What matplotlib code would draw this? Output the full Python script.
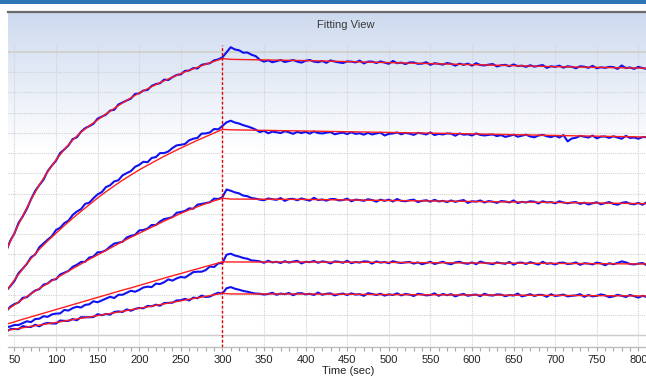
import numpy as np
import matplotlib
matplotlib.use('Agg')
import matplotlib.pyplot as plt
from matplotlib.patches import Rectangle
from matplotlib.lines import Line2D
from matplotlib.ticker import MultipleLocator

plt.rcParams['font.family'] = ['Liberation Sans', 'DejaVu Sans']

# ---------------- data ----------------
t_trace = list(range(40, 816, 5))            # sensorgram sampling times (s)
t_fit_assoc = [42] + list(range(50, 301, 10))
t_fit_diss = [300, 310, 400, 500, 600, 700, 815]
x_ticks = list(range(50, 801, 50))
injection_end = 300

fit1_assoc = [43.7, 50.5, 59.0, 67.0, 74.3, 80.8, 86.6, 91.8, 96.4, 100.3, 103.5, 106.4, 109.3, 112.1,
              114.8, 117.3, 119.7, 121.8, 123.8, 125.7, 127.5, 129.3, 130.9, 132.4, 133.9, 135.3, 136.7]
fit2_assoc = [22.7, 27.3, 32.8, 37.9, 42.5, 46.6, 50.4, 54.2, 57.8, 61.2, 64.5, 67.8, 70.9, 73.8,
              76.6, 79.2, 81.7, 84.0, 86.2, 88.4, 90.5, 92.5, 94.4, 96.3, 98.1, 99.9, 101.7]
fit3_assoc = [12.8, 15.0, 17.8, 20.5, 23.1, 25.6, 28.1, 30.5, 32.9, 35.2, 37.5, 39.7, 41.9, 44.1,
              46.3, 48.4, 50.4, 52.4, 54.4, 56.4, 58.3, 60.2, 61.9, 63.5, 65.0, 66.4, 67.7]
fit4_assoc = [5.7, 6.6, 7.9, 9.1, 10.3, 11.5, 12.7, 13.9, 15.1, 16.3, 17.5, 18.7, 19.9, 21.1,
              22.3, 23.4, 24.6, 25.8, 27.0, 28.2, 29.4, 30.5, 31.7, 32.8, 34.0, 35.1, 36.3]
fit5_assoc = [2.5, 3.0, 3.7, 4.4, 5.0, 5.7, 6.3, 7.0, 7.7, 8.4, 9.0, 9.7, 10.4, 11.1,
              11.8, 12.6, 13.3, 14.0, 14.8, 15.5, 16.3, 17.0, 17.8, 18.5, 19.2, 20.0, 20.7]

fit1_diss = [136.7, 136.3, 135.7, 134.7, 133.7, 132.7, 131.9]
fit2_diss = [101.7, 101.5, 100.9, 100.2, 99.5, 98.7, 97.9]
fit3_diss = [67.7, 67.3, 67.1, 66.6, 66.1, 65.6, 65.0]
fit4_diss = [36.3, 36.2, 36.2, 36.0, 35.7, 35.5, 35.2]
fit5_diss = [20.7, 20.4, 20.4, 20.1, 19.9, 19.7, 19.4]

trace1 = [41.4, 46.7, 50.3, 55.5, 58.7, 62.5, 67.2, 71.3, 74.2, 76.9, 81.1, 83.8, 86.2, 90.0, 91.8,
          93.8, 96.9, 97.8, 100.5, 102.3, 103.3, 104.5, 107.0, 108.0, 109.0, 111.0, 111.4, 114.0,
          115.0, 116.0, 116.9, 119.2, 119.5, 120.9, 121.2, 123.2, 124.1, 124.5, 126.3, 126.1, 127.5,
          128.6, 128.9, 130.6, 130.8, 132.0, 131.8, 133.6, 134.0, 134.4, 135.8, 136.3, 137.3,
          139.8, 142.3, 141.2, 140.8, 139.6, 139.7, 138.6, 137.9,
          136.1, 135.2, 135.8, 134.9, 135.4, 136.0, 135.0, 135.5, 136.0, 135.2,
          134.7, 135.6, 136.0, 135.2, 134.9, 135.5, 134.6, 135.8, 135.2, 134.8,
          134.5, 135.3, 135.2, 134.8, 135.7, 134.3, 135.2, 135.2, 134.5, 135.3,
          134.7, 134.1, 135.5, 134.4, 134.7, 134.0, 134.8, 134.8, 134.1, 134.2,
          134.9, 133.6, 134.4, 134.1, 133.7, 134.5, 134.1, 133.2, 134.2, 133.6,
          134.2, 133.2, 134.4, 133.5, 133.3, 133.7, 134.0, 132.8, 133.4, 133.6,
          132.9, 133.8, 133.0, 133.2, 132.6, 133.4, 132.7, 133.1, 133.5, 132.1,
          132.9, 132.6, 133.2, 132.2, 132.9, 132.6, 131.9, 132.9, 132.7, 132.1,
          133.1, 131.9, 132.4, 132.1, 132.6, 132.5, 131.6, 133.3, 132.0, 132.3,
          131.6, 132.6, 132.0, 131.6, 132.0]
trace2 = [21.9, 24.2, 26.8, 30.7, 32.9, 35.3, 38.5, 39.9, 43.5, 45.4, 47.2, 48.9, 52.0, 53.1, 55.4,
          56.6, 59.4, 61.1, 62.3, 64.9, 65.5, 67.7, 69.6, 70.7, 73.2, 74.1, 76.0, 76.6, 79.0, 80.1,
          81.1, 83.2, 84.2, 85.7, 85.5, 87.6, 88.0, 90.0, 90.0, 90.8, 92.5, 93.8, 94.1, 94.5, 96.3,
          97.1, 97.5, 99.6, 99.7, 100.2, 101.9, 101.7, 103.4,
          105.2, 106.0, 105.1, 104.6, 103.8, 103.2, 102.5, 101.6,
          100.4, 101.0, 99.8, 100.6, 100.3, 99.9, 100.8, 100.3, 99.5, 100.5,
          99.9, 100.5, 99.6, 100.7, 99.9, 99.7, 100.1, 100.4, 99.3, 99.8,
          100.1, 99.4, 100.3, 99.5, 99.8, 99.1, 100.0, 99.2, 99.7, 100.1,
          98.7, 99.5, 99.7, 100.2, 99.3, 100.0, 99.6, 99.0, 100.0, 99.7,
          99.2, 100.2, 98.9, 99.5, 99.2, 99.7, 99.6, 98.6, 99.7, 99.1,
          99.3, 98.7, 99.7, 99.0, 98.7, 99.0, 99.2, 98.4, 98.9, 98.0,
          98.5, 99.1, 98.1, 98.6, 99.1, 98.2, 97.8, 98.7, 99.0, 98.3,
          97.9, 98.6, 97.7, 98.9, 95.8, 97.2, 97.6, 98.5, 98.1, 97.7,
          98.6, 97.3, 98.1, 98.2, 97.5, 98.3, 97.7, 97.1, 98.5, 97.5,
          97.7, 97.1, 97.9, 97.9, 97.2]
trace3 = [11.7, 14.1, 15.4, 16.2, 18.5, 18.8, 20.6, 22.1, 22.8, 25.0, 25.6, 27.3, 27.7, 30.0, 30.9,
          31.8, 33.8, 34.8, 36.2, 36.3, 38.4, 38.9, 41.0, 41.1, 42.0, 43.8, 45.3, 45.7, 46.2, 48.3,
          49.1, 49.6, 51.8, 52.0, 52.7, 54.5, 54.4, 56.2, 57.4, 57.8, 58.4, 60.5, 60.9, 61.4, 62.7,
          62.5, 64.5, 64.9, 65.3, 65.7, 67.5, 67.3, 68.2,
          72.0, 71.4, 70.6, 70.1, 69.0, 68.7, 67.8, 67.5,
          67.0, 66.7, 67.6, 67.2, 66.9, 67.8, 66.4, 67.3, 67.4, 66.7,
          67.6, 67.0, 66.5, 67.9, 66.8, 67.1, 66.5, 67.3, 67.3, 66.6,
          66.8, 67.5, 66.2, 67.0, 66.8, 66.4, 67.2, 66.8, 66.0, 67.0,
          66.4, 67.0, 66.1, 67.3, 66.4, 66.2, 66.7, 67.0, 65.8, 66.4,
          66.7, 66.0, 66.9, 66.1, 66.4, 65.8, 66.6, 65.9, 66.4, 66.8,
          65.4, 66.2, 66.0, 66.6, 65.6, 66.3, 66.0, 65.4, 66.3, 66.1,
          65.6, 66.6, 65.3, 65.9, 65.6, 66.2, 66.0, 65.1, 66.2, 65.6,
          65.8, 65.2, 66.2, 65.6, 65.2, 65.6, 65.8, 64.9, 65.5, 64.6,
          65.2, 65.7, 64.7, 65.3, 65.8, 64.9, 64.5, 65.4, 65.8, 65.0,
          64.7, 65.4, 64.5, 65.7, 65.1]
trace4 = [4.0, 4.3, 5.1, 5.1, 6.0, 6.9, 6.5, 8.0, 8.2, 9.4, 9.1, 10.3, 10.7, 10.8, 12.5,
          12.2, 13.4, 14.1, 13.7, 15.0, 15.3, 16.8, 16.3, 17.2, 18.1, 19.0, 18.4, 20.0, 20.0, 21.0,
          22.0, 21.5, 22.4, 23.6, 24.0, 23.8, 25.5, 25.3, 26.2, 27.6, 27.0, 28.1, 28.8, 28.5, 29.8,
          31.2, 31.4, 31.4, 32.2, 34.0, 33.7, 35.5, 35.7,
          39.8, 40.3, 39.4, 38.9, 38.2, 37.8, 37.0, 36.8,
          36.5, 35.8, 36.8, 36.0, 36.3, 35.7, 36.6, 35.9, 36.4, 36.8,
          35.5, 36.3, 36.1, 36.7, 35.8, 36.5, 36.2, 35.5, 36.5, 36.3,
          35.8, 36.8, 35.6, 36.2, 35.9, 36.5, 36.4, 35.4, 36.5, 35.9,
          36.2, 35.6, 36.6, 36.0, 35.7, 36.0, 36.2, 35.4, 36.0, 35.1,
          35.7, 36.3, 35.2, 35.8, 36.3, 35.5, 35.1, 36.0, 36.3, 35.6,
          35.3, 36.0, 35.1, 36.4, 35.8, 35.5, 35.1, 36.0, 35.6, 35.3,
          36.2, 34.9, 35.8, 35.9, 35.2, 36.1, 35.5, 34.9, 36.3, 35.3,
          35.6, 35.0, 35.8, 35.9, 35.2, 35.4, 36.0, 34.8, 35.6, 35.4,
          35.0, 35.9, 35.5, 34.6, 35.6, 35.1, 35.7, 36.5, 36.0, 35.2,
          35.0, 35.4, 35.7, 34.6, 35.2]
trace5 = [1.7, 3.0, 3.1, 3.0, 4.5, 4.1, 4.1, 5.2, 4.4, 5.6, 6.1, 5.8, 5.8, 7.3, 7.1,
          7.1, 8.0, 7.4, 8.9, 8.9, 8.9, 9.0, 10.4, 9.9, 10.5, 10.2, 11.5, 11.8, 11.5, 12.8,
          12.1, 13.0, 13.5, 13.3, 14.5, 14.3, 15.1, 14.6, 15.9, 16.0, 16.1, 17.2, 17.3, 18.0, 17.2,
          18.6, 18.3, 19.6, 18.9, 19.1, 20.2, 21.0, 20.6,
          23.2, 23.8, 23.0, 22.5, 21.9, 21.5, 21.0, 20.6,
          20.5, 20.1, 20.4, 21.0, 20.0, 20.6, 20.3, 20.9, 19.8, 20.7,
          20.8, 20.2, 20.5, 19.9, 21.1, 20.0, 20.5, 20.7, 19.7, 20.3,
          20.6, 19.9, 20.7, 20.1, 20.3, 19.5, 20.8, 20.4, 19.9, 20.5,
          19.6, 20.2, 19.9, 20.7, 19.7, 20.4, 20.1, 19.4, 20.5, 20.2,
          19.7, 19.9, 20.7, 19.5, 20.4, 19.8, 20.3, 19.2, 20.0, 20.4,
          19.5, 19.9, 20.1, 19.3, 20.5, 19.8, 19.6, 20.2, 20.1, 19.3,
          19.9, 19.6, 20.6, 19.2, 19.7, 20.3, 19.4, 20.0, 19.9, 19.0,
          20.3, 19.4, 19.7, 20.1, 19.2, 19.5, 19.7, 20.3, 19.0, 19.9,
          19.2, 19.5, 20.2, 19.7, 18.8, 19.2, 20.0, 19.5, 18.9, 19.9,
          19.3, 18.6, 19.5, 18.9, 19.7]

traces = [trace1, trace2, trace3, trace4, trace5]
fits_assoc = [fit1_assoc, fit2_assoc, fit3_assoc, fit4_assoc, fit5_assoc]
fits_diss = [fit1_diss, fit2_diss, fit3_diss, fit4_diss, fit5_diss]
for tr in traces:
    assert len(tr) == len(t_trace), len(tr)

# ---------------- layout ----------------
W, H = 646, 378
fig = plt.figure(figsize=(W / 100, H / 100), dpi=100)
fig.patch.set_facecolor('white')

def fx(px):
    return px / W

def fy(py):
    return 1 - py / H

# top window bar
fig.patches.append(Rectangle((0, fy(3.5)), 1, 3.5 / H, transform=fig.transFigure,
                             facecolor='#2E75B6', edgecolor='none', zorder=0))

# panel gradient background
bg = fig.add_axes([fx(8), 0, 1 - fx(8), fy(11)], zorder=0)
rows = 367
frac = np.clip(np.arange(rows) / 140.0, 0, 1).reshape(-1, 1, 1)
top_c = np.array([205, 218, 239]) / 255.0
img = top_c * (1 - frac) + np.ones(3) * frac
bg.imshow(img, aspect='auto', extent=[0, 1, 0, 1], origin='upper', interpolation='bilinear')
bg.set_axis_off()

fig.add_artist(Line2D([fx(8), 1], [fy(11.5), fy(11.5)], transform=fig.transFigure,
                      color='#6A6A6A', lw=1.6))

ax = fig.add_axes([fx(8), fy(347), fx(646) - fx(8), fy(45) - fy(347)], zorder=1)
ax.patch.set_alpha(0)
ax.set_xlim(42.3, 809.2)
ax.set_ylim(-5.8, 143.4)

ax.set_yticks(list(range(0, 141, 10)))
ax.set_xticks(x_ticks)
ax.xaxis.set_minor_locator(MultipleLocator(10))
ax.grid(True, which='major', axis='both', linestyle=(0, (1, 1)), color='#D2D2D2', lw=0.8)
ax.axhline(0, color='#C8C8C8', lw=1.0, zorder=1)
ax.axhline(140, color='#D0D0D0', lw=1.3, zorder=1)

for s in ['top', 'right', 'left']:
    ax.spines[s].set_visible(False)
ax.spines['bottom'].set_color('#BDBDBD')
ax.spines['bottom'].set_linewidth(1.0)
ax.tick_params(axis='y', left=False, labelleft=False)
ax.tick_params(axis='x', which='both', direction='out', length=3, width=0.8,
               color='#A8A8A8', labelsize=8, pad=2.5, labelcolor='#222222')

for tr in traces:
    ax.plot(t_trace, tr, color='#1010F0', lw=1.5, zorder=3)
for fa, fd in zip(fits_assoc, fits_diss):
    ax.plot(t_fit_assoc, fa, color='#FF1E1E', lw=1.0, zorder=4)
    ax.plot(t_fit_diss, fd, color='#FF1E1E', lw=1.0, zorder=4)

ax.axvline(injection_end, color='#E00000', ls=(0, (2, 1.5)), lw=1.0, zorder=5)

fig.text(fx(345.5), fy(25), 'Fitting View', ha='center', va='center', fontsize=8, color='#3A3A3A')
fig.text(fx(348), fy(371), 'Time (sec)', ha='center', va='center', fontsize=8, color='#222222')

fig.savefig('out.png', dpi=100)
